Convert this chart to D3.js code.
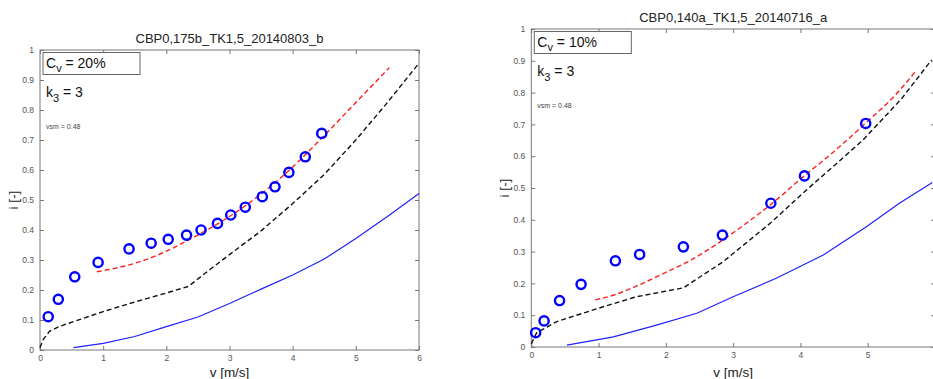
<!DOCTYPE html>
<html>
<head>
<meta charset="utf-8">
<script src="https://cdn.jsdelivr.net/npm/d3@7"></script>
<style>
  body { margin: 0; background: #fff; }
  svg { display: block; font-family: Arial, "Liberation Sans", sans-serif; }
</style>
</head>
<body>
<div id="chart"></div>
<script>
const width = 933
const height = 379

// tick labels
const xTicks = [0, 1, 2, 3, 4, 5, 6]
const yTicks = [0, 0.1, 0.2, 0.3, 0.4, 0.5, 0.6, 0.7, 0.8, 0.9, 1]

// left panel: Cv = 20%
const measuredA = [
  [0.13, 0.111], [0.29, 0.169], [0.55, 0.244], [0.92, 0.292], [1.41, 0.337],
  [1.76, 0.356], [2.03, 0.369], [2.32, 0.383], [2.55, 0.40], [2.81, 0.422],
  [3.02, 0.45], [3.25, 0.476], [3.52, 0.511], [3.72, 0.544], [3.94, 0.592],
  [4.20, 0.644], [4.46, 0.722]
]
const redA = [
  [0.9, 0.261], [1.4, 0.283], [1.8, 0.311], [2.2, 0.35], [2.6, 0.395],
  [3.0, 0.445], [3.5, 0.52], [4.0, 0.61], [4.5, 0.715], [5.0, 0.825], [5.53, 0.941]
]
const blackA = [
  [0, 0.008], [0.05, 0.035], [0.15, 0.062], [0.3, 0.078], [0.55, 0.096],
  [1.0, 0.128], [1.5, 0.160], [2.0, 0.19], [2.35, 0.212], [2.7, 0.27],
  [3.0, 0.318], [3.5, 0.397], [4.0, 0.488], [4.5, 0.585], [5.0, 0.70],
  [5.5, 0.825], [6.0, 0.956]
]
const blueA = [
  [0.53, 0.008], [1.0, 0.022], [1.5, 0.045], [2.0, 0.078], [2.5, 0.11],
  [3.0, 0.155], [3.5, 0.203], [4.0, 0.25], [4.5, 0.303], [5.0, 0.372],
  [5.5, 0.445], [6.0, 0.522]
]

// right panel: Cv = 10%
const measuredB = [
  [0.065, 0.045], [0.19, 0.082], [0.42, 0.146], [0.74, 0.197], [1.25, 0.271],
  [1.61, 0.291], [2.26, 0.315], [2.84, 0.352], [3.56, 0.452], [4.06, 0.538],
  [4.97, 0.703]
]
const redB = [
  [0.95, 0.148], [1.25, 0.165], [1.6, 0.195], [2.0, 0.235], [2.3, 0.265],
  [2.8, 0.33], [3.2, 0.39], [3.6, 0.455], [4.0, 0.528], [4.5, 0.615],
  [5.0, 0.71], [5.4, 0.79], [5.72, 0.869]
]
const blackB = [
  [0, 0.01], [0.08, 0.045], [0.38, 0.08], [1.0, 0.122], [1.56, 0.158],
  [2.26, 0.186], [2.85, 0.268], [3.55, 0.389], [4.09, 0.494], [4.5, 0.57],
  [4.93, 0.651], [5.5, 0.78], [5.95, 0.903]
]
const blueB = [
  [0.53, 0.006], [1.22, 0.032], [1.86, 0.069], [2.46, 0.106], [3.0, 0.158],
  [3.64, 0.216], [4.34, 0.289], [4.98, 0.378], [5.47, 0.452], [5.96, 0.517]
]

const panels = [
  {
    title: 'CBP0,175b_TK1,5_20140803_b', cv: '20%',
    box: { left: 40, right: 419, top: 50, bottom: 350 },
    measured: measuredA, red: redA, black: blackA, blue: blueA
  },
  {
    title: 'CBP0,140a_TK1,5_20140716_a', cv: '10%',
    box: { left: 531.3, right: 935, top: 29, bottom: 347 },
    measured: measuredB, red: redB, black: blackB, blue: blueB
  }
]

const svg = d3
  .select('#chart')
  .append('svg')
  .attr('width', width)
  .attr('height', height)

panels.forEach(p => {
  const b = p.box
  const x = d3.scaleLinear().domain([0, 6]).range([b.left, b.right])
  const y = d3.scaleLinear().domain([0, 1]).range([b.bottom, b.top])
  const g = svg.append('g')

  // axes with inward ticks on all four sides
  const tickStyle = sel => {
    sel.select('.domain').remove()
    sel.selectAll('line').attr('stroke', '#777')
    sel.selectAll('text').attr('fill', '#555').style('font-size', '8.5px')
  }
  // labels that would fall past the window edge are left out
  g.append('g')
    .attr('transform', `translate(0,${b.bottom})`)
    .call(d3.axisBottom(x).tickValues(xTicks)
      .tickFormat(d => (x(d) > width - 3 ? '' : d3.format('d')(d)))
      .tickSizeInner(-4).tickSizeOuter(0).tickPadding(5))
    .call(tickStyle)
  g.append('g')
    .attr('transform', `translate(0,${b.top})`)
    .call(d3.axisTop(x).tickValues(xTicks).tickSizeInner(-4).tickSizeOuter(0).tickFormat(''))
    .call(tickStyle)
  g.append('g')
    .attr('transform', `translate(${b.left},0)`)
    .call(d3.axisLeft(y).tickValues(yTicks)
      .tickFormat(d => (d === 0 || d === 1 ? d3.format('d')(d) : d3.format('.1f')(d)))
      .tickSizeInner(-4).tickSizeOuter(0).tickPadding(6))
    .call(tickStyle)
  g.append('g')
    .attr('transform', `translate(${b.right},0)`)
    .call(d3.axisRight(y).tickValues(yTicks).tickSizeInner(-4).tickSizeOuter(0).tickFormat(''))
    .call(tickStyle)

  g.append('rect')
    .attr('x', b.left)
    .attr('y', b.top)
    .attr('width', b.right - b.left)
    .attr('height', b.bottom - b.top)
    .attr('fill', 'none')
    .attr('stroke', '#777')
    .attr('stroke-width', 1)

  const line = d3.line()
    .x(d => x(d[0]))
    .y(d => y(d[1]))

  g.append('path')
    .datum(p.blue)
    .attr('d', line.curve(d3.curveLinear))
    .attr('fill', 'none')
    .attr('stroke', '#2020ff')
    .attr('stroke-width', 1.2)

  g.append('path')
    .datum(p.black)
    .attr('d', line.curve(d3.curveLinear))
    .attr('fill', 'none')
    .attr('stroke', '#111')
    .attr('stroke-width', 1.4)
    .attr('stroke-dasharray', '5,3')

  g.append('path')
    .datum(p.red)
    .attr('d', line.curve(d3.curveMonotoneX))
    .attr('fill', 'none')
    .attr('stroke', '#ff2020')
    .attr('stroke-width', 1.4)
    .attr('stroke-dasharray', '5,3')

  g.selectAll('.pt')
    .data(p.measured)
    .enter()
    .append('circle')
    .attr('cx', d => x(d[0]))
    .attr('cy', d => y(d[1]))
    .attr('r', 4.6)
    .attr('fill', 'none')
    .attr('stroke', '#0000ff')
    .attr('stroke-width', 2.4)

  // title and axis labels
  g.append('text')
    .attr('x', (b.left + b.right) / 2)
    .attr('y', b.top - 7)
    .attr('text-anchor', 'middle')
    .style('font-size', '13px')
    .attr('fill', '#222')
    .text(p.title)

  g.append('text')
    .attr('x', (b.left + b.right) / 2)
    .attr('y', 377)
    .attr('text-anchor', 'middle')
    .style('font-size', '13.5px')
    .attr('fill', '#222')
    .text('v [m/s]')

  g.append('text')
    .attr('transform', `translate(${b.left - 22},${(b.top + b.bottom) / 2}) rotate(-90)`)
    .attr('text-anchor', 'middle')
    .style('font-size', '13.5px')
    .attr('fill', '#222')
    .text('i [-]')

  // annotation box
  g.append('rect')
    .attr('x', b.left + 3)
    .attr('y', b.top + 2.5)
    .attr('width', 97)
    .attr('height', 22)
    .attr('fill', 'white')
    .attr('stroke', '#666')
    .attr('stroke-width', 1)

  const cv = g.append('text')
    .attr('x', b.left + 6)
    .attr('y', b.top + 18)
    .style('font-size', '14px')
    .attr('fill', '#111')
  cv.append('tspan').text('C')
  cv.append('tspan').attr('dy', 4).style('font-size', '11px').text('v')
  cv.append('tspan').attr('dy', -4).text(' = ' + p.cv)

  const k = g.append('text')
    .attr('x', b.left + 6)
    .attr('y', b.top + 47)
    .style('font-size', '14px')
    .attr('fill', '#111')
  k.append('tspan').text('k')
  k.append('tspan').attr('dy', 5).style('font-size', '11px').text('3')
  k.append('tspan').attr('dy', -5).text(' = 3')

  g.append('text')
    .attr('x', b.left + 6)
    .attr('y', b.top + 79)
    .style('font-size', '7px')
    .attr('fill', '#444')
    .text('vsm = 0.48')
})
</script>
</body>
</html>
